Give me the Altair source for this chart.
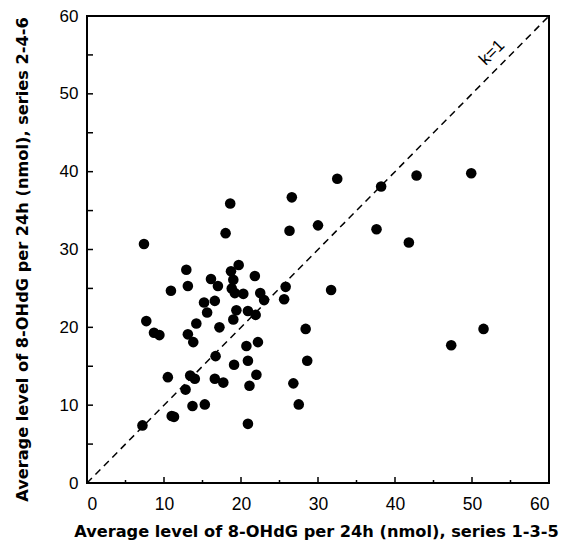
import altair as alt
import pandas as pd

# Average level of 8-OHdG per 24h (nmol)
series_135 = [7.2, 7.4, 7.7, 8.7, 9.4, 10.5, 10.9, 11.0, 11.3, 12.8,
              12.9, 13.1, 13.1, 13.4, 13.8, 14.0, 13.7, 14.2, 15.2, 15.6,
              15.3, 16.1, 16.6, 16.7, 16.6, 17.0, 17.2, 17.7, 18.0, 18.6,
              18.7, 19.0, 18.8, 19.2, 19.7, 19.0, 19.4, 19.1, 20.3, 20.7,
              20.9, 21.1, 20.9, 20.9, 21.8, 21.9, 22.2, 22.0, 22.5, 23.0,
              25.6, 25.8, 26.3, 26.6, 26.8, 27.5, 28.4, 28.6, 30.0, 31.7,
              32.5, 37.6, 38.2, 41.8, 42.8, 47.3, 49.9, 51.5]
series_246 = [7.4, 30.7, 20.8, 19.3, 19.0, 13.6, 24.7, 8.6, 8.5, 12.0,
              27.4, 25.3, 19.1, 13.8, 18.1, 13.4, 9.9, 20.5, 23.2, 21.9,
              10.1, 26.2, 23.4, 16.3, 13.4, 25.3, 20.0, 12.9, 32.1, 35.9,
              27.2, 26.1, 25.0, 24.4, 28.0, 21.0, 22.2, 15.2, 24.3, 17.6,
              15.7, 12.5, 7.6, 22.1, 26.6, 21.6, 18.1, 13.9, 24.4, 23.5,
              23.6, 25.2, 32.4, 36.7, 12.8, 10.1, 19.8, 15.7, 33.1, 24.8,
              39.1, 32.6, 38.1, 30.9, 39.5, 17.7, 39.8, 19.8]

# line of identity k=1
line_x = [0, 60]
line_y = [0, 60]
label_text = ["k=1"]
label_x = [52.6]
label_y = [55.3]

major_ticks = [0, 10, 20, 30, 40, 50, 60]
minor_ticks = [5, 15, 25, 35, 45, 55]
y_ticks = [0, 5, 10, 15, 20, 25, 30, 35, 40, 45, 50, 55, 60]

x_title = "Average level of 8-OHdG per 24h (nmol), series 1-3-5"
y_title = "Average level of 8-OHdG per 24h (nmol), series 2-4-6"

W, H = 462, 467
FONT = "Liberation Sans"
TFONT = "DejaVu Sans"

pts = pd.DataFrame({"x": series_135, "y": series_246})
line_df = pd.DataFrame({"x": line_x, "y": line_y})
lab_df = pd.DataFrame({"t": label_text, "x": label_x, "y": label_y})
xmaj = pd.DataFrame({"v": major_ticks})
xmin = pd.DataFrame({"v": minor_ticks})
ytk = pd.DataFrame({"v": y_ticks})

xs = alt.Scale(domain=[0, 60], nice=False)
ys = alt.Scale(domain=[0, 60], nice=False)

x_axis = alt.Axis(values=major_ticks, title=x_title, tickSize=0, domain=False,
                  grid=False, labelPadding=12, labelFontSize=17.5,
                  titleX=229, titleY=53, titleBaseline="alphabetic")
y_axis = alt.Axis(values=major_ticks, title=y_title, tickSize=0, domain=False,
                  grid=False, labelPadding=9, labelFontSize=17,
                  titleX=-60, titleY=243, titleBaseline="alphabetic")

points = alt.Chart(pts).mark_circle(size=112, color="black", opacity=1).encode(
    x=alt.X("x:Q", scale=xs, axis=x_axis),
    y=alt.Y("y:Q", scale=ys, axis=y_axis),
)

diag = alt.Chart(line_df).mark_line(color="black", strokeWidth=1.5,
                                    strokeDash=[7, 5]).encode(
    x=alt.X("x:Q", scale=xs), y=alt.Y("y:Q", scale=ys))

klabel = alt.Chart(lab_df).mark_text(angle=315, font=FONT, fontSize=17,
                                     color="black").encode(
    x=alt.X("x:Q", scale=xs), y=alt.Y("y:Q", scale=ys), text="t:N")

xmaj_r = alt.Chart(xmaj).mark_rule(color="black", strokeWidth=1.5).encode(
    x=alt.X("v:Q", scale=xs), y=alt.value(H), y2=alt.value(H - 6))
xmin_r = alt.Chart(xmin).mark_rule(color="black", strokeWidth=1.5).encode(
    x=alt.X("v:Q", scale=xs), y=alt.value(H), y2=alt.value(H - 3))
y_r = alt.Chart(ytk).mark_rule(color="black", strokeWidth=1.5).encode(
    y=alt.Y("v:Q", scale=ys), x=alt.value(0), x2=alt.value(6))

chart = alt.layer(diag, xmaj_r, xmin_r, y_r, points, klabel).properties(
    width=W, height=H,
    autosize=alt.AutoSizeParams(type="none"),
    padding={"left": 79, "top": 8, "right": 12, "bottom": 57},
).configure_view(stroke="black", strokeWidth=2).configure_axis(
    labelFont=FONT, titleFont=TFONT, titleFontSize=16.2, titleFontWeight="bold",
    labelColor="black", titleColor="black",
)

chart.save("out.html", embed_options={"renderer": "svg", "actions": False})
